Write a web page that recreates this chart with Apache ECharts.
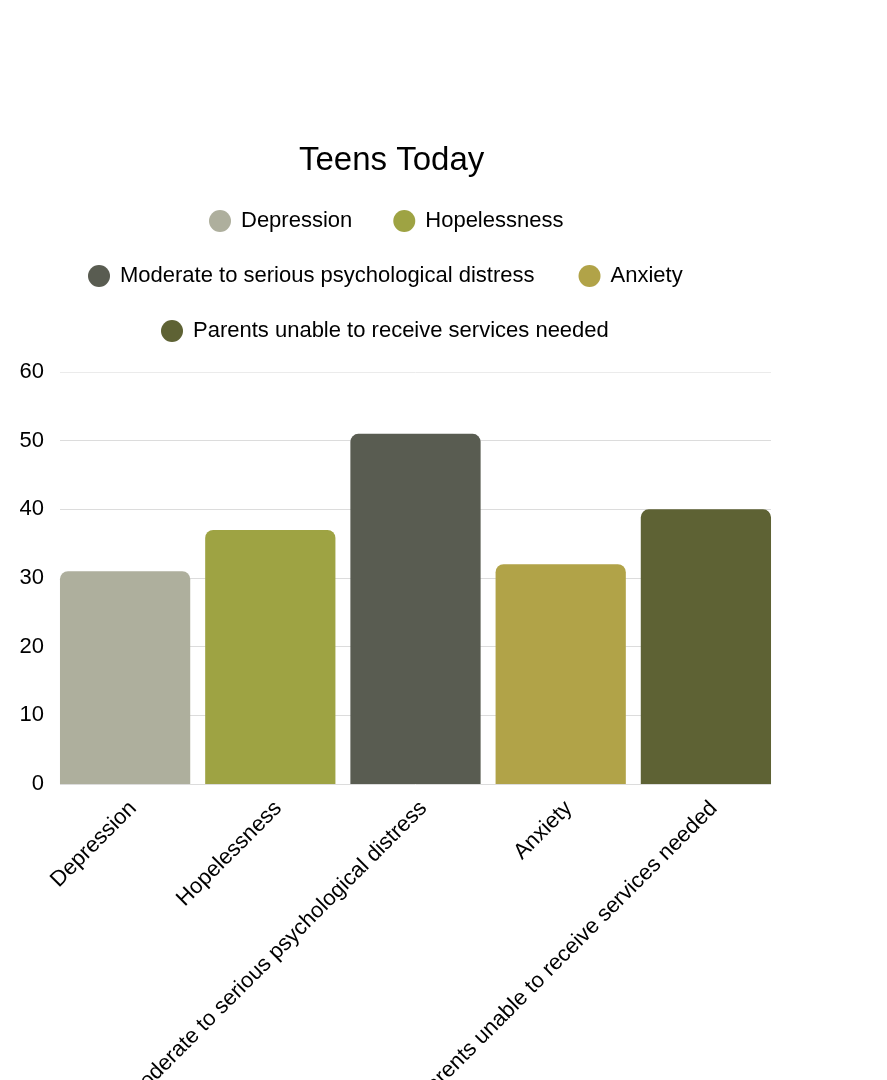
<!DOCTYPE html>
<html>
<head>
<meta charset="utf-8">
<title>Teens Today</title>
<script src="https://cdn.jsdelivr.net/npm/echarts@6/dist/echarts.min.js"></script>
<style>
  html, body { margin: 0; padding: 0; background: #fff; }
  #chart { width: 887px; height: 1080px; }
</style>
</head>
<body>
<div id="chart"></div>
<script>
'use strict';
// data
var categories = ['Depression', 'Hopelessness', 'Moderate to serious psychological distress', 'Anxiety', 'Parents unable to receive services needed'];
var values = [31, 37, 51, 32, 40];
var colors = ['#aeaf9d', '#9ea343', '#595c51', '#b1a348', '#5e6234'];
var yTicks = [0, 10, 20, 30, 40, 50, 60];

var font = 'Liberation Sans';

// one series per category so each one gets its own legend entry
var series = categories.map(function (name, i) {
    var data = categories.map(function (c, j) { return j === i ? values[i] : '-'; });
    return {
        name: name,
        type: 'bar',
        xAxisIndex: 1,
        yAxisIndex: 1,
        stack: 'all',
        barWidth: '89.7%',
        itemStyle: { color: colors[i], borderRadius: [8, 8, 0, 0] },
        data: data
    };
});

function legendRow(names, left, top, gap) {
    return {
        data: names,
        left: left,
        top: top,
        icon: 'circle',
        itemWidth: 22,
        itemHeight: 22,
        itemGap: gap,
        selectedMode: false,
        textStyle: { fontFamily: font, fontSize: 22, color: '#000', padding: [0, 0, 0, 5] }
    };
}

// top grid line is a touch lighter than the others
var gridLineColors = yTicks.map(function (t, i) { return i === yTicks.length - 1 ? '#ebebeb' : '#dcdcdc'; });

var option = {
    animation: false,
    title: {
        text: 'Teens Today',
        left: 294,
        top: 139,
        textStyle: { fontFamily: font, fontSize: 33, fontWeight: 'normal', color: '#000' }
    },
    legend: [
        legendRow([categories[0], categories[1]], 204, 205, 41),
        legendRow([categories[2], categories[3]], 83, 260, 44),
        legendRow([categories[4]], 156, 315, 40)
    ],
    grid: [
        // grid lines and y labels
        { left: 60, right: 116, top: 372, bottom: 296, outerBoundsMode: 'none' },
        // bars: slightly wider so bars sit flush with the grid edges
        { left: 52.5, right: 108.5, top: 372, bottom: 296, outerBoundsMode: 'none' },
        // x labels, nudged right like the reference
        { left: 60.5, right: 100.5, top: 372, bottom: 296, outerBoundsMode: 'none' }
    ],
    xAxis: [
        { type: 'category', gridIndex: 0, data: categories, show: false },
        { type: 'category', gridIndex: 1, data: categories, show: false },
        {
            type: 'category',
            gridIndex: 2,
            data: categories,
            axisLine: { show: false },
            axisTick: { show: false },
            axisLabel: { rotate: 45, margin: 21, interval: 0, fontFamily: font, fontSize: 22, color: '#000' }
        }
    ],
    yAxis: [
        {
            type: 'value',
            gridIndex: 0,
            min: yTicks[0],
            max: yTicks[yTicks.length - 1],
            interval: 10,
            axisLine: { show: false },
            axisTick: { show: false },
            axisLabel: { margin: 16, padding: [4, 0, 0, 0], fontFamily: font, fontSize: 22, color: '#000' },
            splitLine: { lineStyle: { color: gridLineColors, width: 1 } }
        },
        {
            type: 'value',
            gridIndex: 1,
            min: yTicks[0],
            max: yTicks[yTicks.length - 1],
            interval: 10,
            show: false,
            splitLine: { show: false }
        },
        {
            type: 'value',
            gridIndex: 2,
            min: yTicks[0],
            max: yTicks[yTicks.length - 1],
            interval: 10,
            show: false,
            splitLine: { show: false }
        }
    ],
    series: series
};

var myChart = echarts.init(document.getElementById('chart'));
myChart.setOption(option);
</script>
</body>
</html>
